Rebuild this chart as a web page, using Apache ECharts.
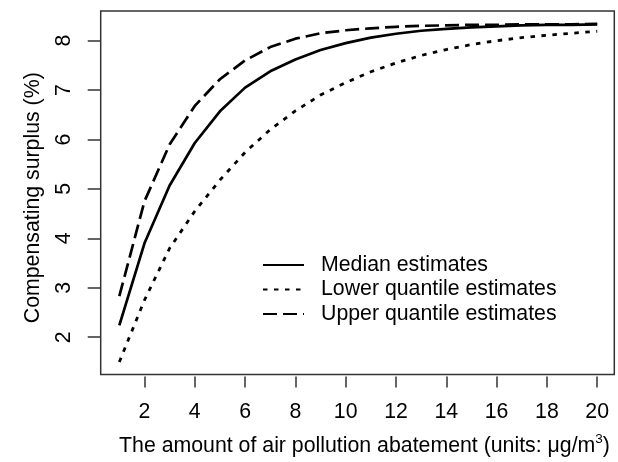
<!DOCTYPE html>
<html>
<head>
<meta charset="utf-8">
<script src="https://cdn.jsdelivr.net/npm/echarts@6/dist/echarts.min.js"></script>
<style>
html,body{margin:0;padding:0;background:#fff;}
#chart{width:618px;height:462px;}
</style>
</head>
<body>
<div id="chart"></div>
<script>
const abatement = [1,2,3,4,5,6,7,8,9,10,11,12,13,14,15,16,17,18,19,20];
const medianEst = [2.24,3.9,5.07,5.93,6.57,7.05,7.38,7.62,7.81,7.95,8.06,8.14,8.2,8.24,8.27,8.29,8.31,8.32,8.32,8.33];
const lowerEst  = [1.5,2.75,3.8,4.55,5.18,5.74,6.2,6.58,6.9,7.15,7.37,7.55,7.7,7.82,7.92,8.0,8.06,8.11,8.15,8.19];
const upperEst  = [2.83,4.75,5.9,6.68,7.22,7.6,7.87,8.04,8.15,8.21,8.25,8.28,8.3,8.31,8.32,8.32,8.33,8.33,8.33,8.34];
const xTicks = [2,4,6,8,10,12,14,16,18,20];
const yTicks = [2,3,4,5,6,7,8];
const seriesNames = ['Median estimates','Lower quantile estimates','Upper quantile estimates'];

const FONT = 'Liberation Sans, Arial, Helvetica, sans-serif';
const FS = 21.3;
const ink = '#333';

function pairs(ys){ return abatement.map((x,i)=>[x, ys[i]]); }

const chart = echarts.init(document.getElementById('chart'), null, {renderer:'canvas'});
chart.setOption({
  animation:false,
  backgroundColor:'#fff',
  textStyle:{fontFamily:FONT},
  grid:{left:100.7, right:3.7, top:11, bottom:87, show:true, borderColor:ink, borderWidth:1.5, containLabel:false},
  xAxis:{
    type:'value', min:0.26, max:20.68, offset:2,
    axisLine:{show:false},
    splitLine:{show:false},
    axisTick:{show:true, length:11, customValues:xTicks, lineStyle:{color:ink, width:1.5}},
    axisLabel:{customValues:xTicks, margin:25, color:'#000', fontSize:FS, fontFamily:FONT},
    name:'The amount of air pollution abatement (units: μg/m{sup|3})',
    nameLocation:'middle', nameGap:56,
    nameTextStyle:{color:'#000', fontSize:FS, fontFamily:FONT, padding:[0,0,0,14],
      rich:{sup:{fontSize:13.5, fontFamily:FONT, color:'#000', verticalAlign:'top', padding:[0,0,14,0]}}}
  },
  yAxis:{
    type:'value', min:1.246, max:8.6,
    axisLine:{show:false},
    splitLine:{show:false},
    axisTick:{show:true, length:13, customValues:yTicks, lineStyle:{color:ink, width:1.5}},
    axisLabel:{customValues:yTicks, rotate:90, margin:26, color:'#000', fontSize:FS, fontFamily:FONT},
    name:'Compensating surplus (%)',
    nameLocation:'middle', nameRotate:90, nameGap:57,
    nameTextStyle:{color:'#000', fontSize:FS, fontFamily:FONT, padding:[0,10,0,0]}
  },
  legend:{
    orient:'vertical', left:257, top:249.5,
    itemWidth:41, itemHeight:14, itemGap:3.5,
    data:seriesNames,
    textStyle:{color:'#000', fontSize:FS, lineHeight:21, fontFamily:FONT, padding:[0,0,0,12]},
    itemStyle:{opacity:0}
  },
  series:[
    {name:seriesNames[0], type:'line', symbol:'none', data:pairs(medianEst),
     lineStyle:{color:'#000', width:2.7, type:'solid', cap:'butt'}, itemStyle:{color:'#000'}},
    {name:seriesNames[1], type:'line', symbol:'none', data:pairs(lowerEst),
     lineStyle:{color:'#000', width:2.8, type:[4.5,6.5], cap:'butt'}, itemStyle:{color:'#000'}},
    {name:seriesNames[2], type:'line', symbol:'none', data:pairs(upperEst),
     lineStyle:{color:'#000', width:2.7, type:[14,6], cap:'butt'}, itemStyle:{color:'#000'}}
  ]
});
</script>
</body>
</html>
